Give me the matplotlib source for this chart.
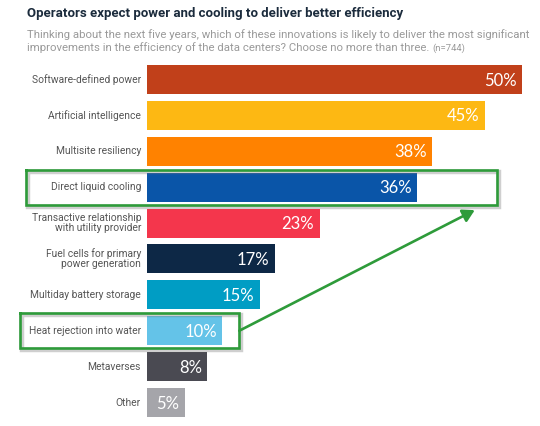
import matplotlib
matplotlib.use("Agg")
import matplotlib.pyplot as plt
from matplotlib.patches import FancyArrowPatch
import matplotlib.patheffects as pe

categories = ["Software-defined power", "Artificial intelligence", "Multisite resiliency",
              "Direct liquid cooling", "Transactive relationship\nwith utility provider",
              "Fuel cells for primary\npower generation", "Multiday battery storage",
              "Heat rejection into water", "Metaverses", "Other"]
values = [50, 45, 38, 36, 23, 17, 15, 10, 8, 5]
colors = ["#C1401A", "#FDB813", "#FF8200", "#0A55A8", "#F4364C",
          "#0D2846", "#009DC4", "#64C3E8", "#4A4A52", "#A5A5AA"]
value_labels = [f"{v}%" for v in values]

title = "Operators expect power and cooling to deliver better efficiency"
subtitle1 = "Thinking about the next five years, which of these innovations is likely to deliver the most significant"
subtitle2 = "improvements in the efficiency of the data centers? Choose no more than three."
n_note = "(n=744)"

highlight_rows = [3, 7]
green = "#2E9B3A"

W, H = 540, 426
fig = plt.figure(figsize=(W / 100, H / 100), dpi=100)
fig.patch.set_facecolor("white")

ax = fig.add_axes([147 / W, 1 - 420.5 / H, 375 / W, 359 / H])
ypos = list(range(len(categories)))
ax.barh(ypos, values, height=0.81, color=colors, zorder=2)
ax.set_xlim(0, 50)
ax.set_ylim(len(categories) - 0.5, -0.5)
ax.axis("off")

label_font = ["Roboto", "DejaVu Sans"]
for y, cat in zip(ypos, categories):
    ax.text(-0.8, y, cat, ha="right", va="center", fontsize=7.4, color="#555555",
            family=label_font, linespacing=1.0, zorder=4)
for y, v, lab in zip(ypos, values, value_labels):
    ax.text(v - 0.7, y + 0.03, lab, ha="right", va="center", fontsize=12, color="white",
            family=["Lato", "DejaVu Sans"], zorder=4)

fig.text(27 / W, 1 - 13 / H, title, ha="left", va="center", fontsize=9.55,
         fontweight="bold", color="#1B2B3C", family=["Roboto", "DejaVu Sans"])
fig.text(27 / W, 1 - 34.5 / H, subtitle1, ha="left", va="center", fontsize=8.18,
         color="#9A9A9A", family=["Roboto", "DejaVu Sans"])
t2 = fig.text(27 / W, 1 - 48 / H, subtitle2 + " ", ha="left", va="center", fontsize=8.18,
              color="#9A9A9A", family=["Roboto", "DejaVu Sans"])
fig.canvas.draw()
bb = t2.get_window_extent()
fig.text(bb.x1 / W, 1 - 48 / H, n_note, ha="left", va="center", fontsize=6.8,
         color="#9A9A9A", family=["Roboto", "DejaVu Sans"])

box_specs = {3: (-16.1, 46.7), 7: (-16.9, 12.3)}
line_shadow = [pe.SimpleLineShadow(offset=(1.2, -1.5), shadow_color="#777777", alpha=0.35,
                                   linewidth=3.2), pe.Normal()]
for row in highlight_rows:
    x0, x1 = box_specs[row]
    xs = [x0, x1, x1, x0, x0]
    ys = [row - 0.49, row - 0.49, row + 0.49, row + 0.49, row - 0.49]
    ln, = ax.plot(xs, ys, color=green, linewidth=1.9, clip_on=False, zorder=5,
                  solid_joinstyle="miter")
    ln.set_path_effects(line_shadow)

arrow = FancyArrowPatch((12.3, 7.0), (43.7, 3.64), arrowstyle="-|>,head_length=7,head_width=4",
                        color=green, linewidth=1.9, clip_on=False, zorder=5,
                        shrinkA=0, shrinkB=0)
ax.add_patch(arrow)

fig.savefig("out.png", dpi=100)
